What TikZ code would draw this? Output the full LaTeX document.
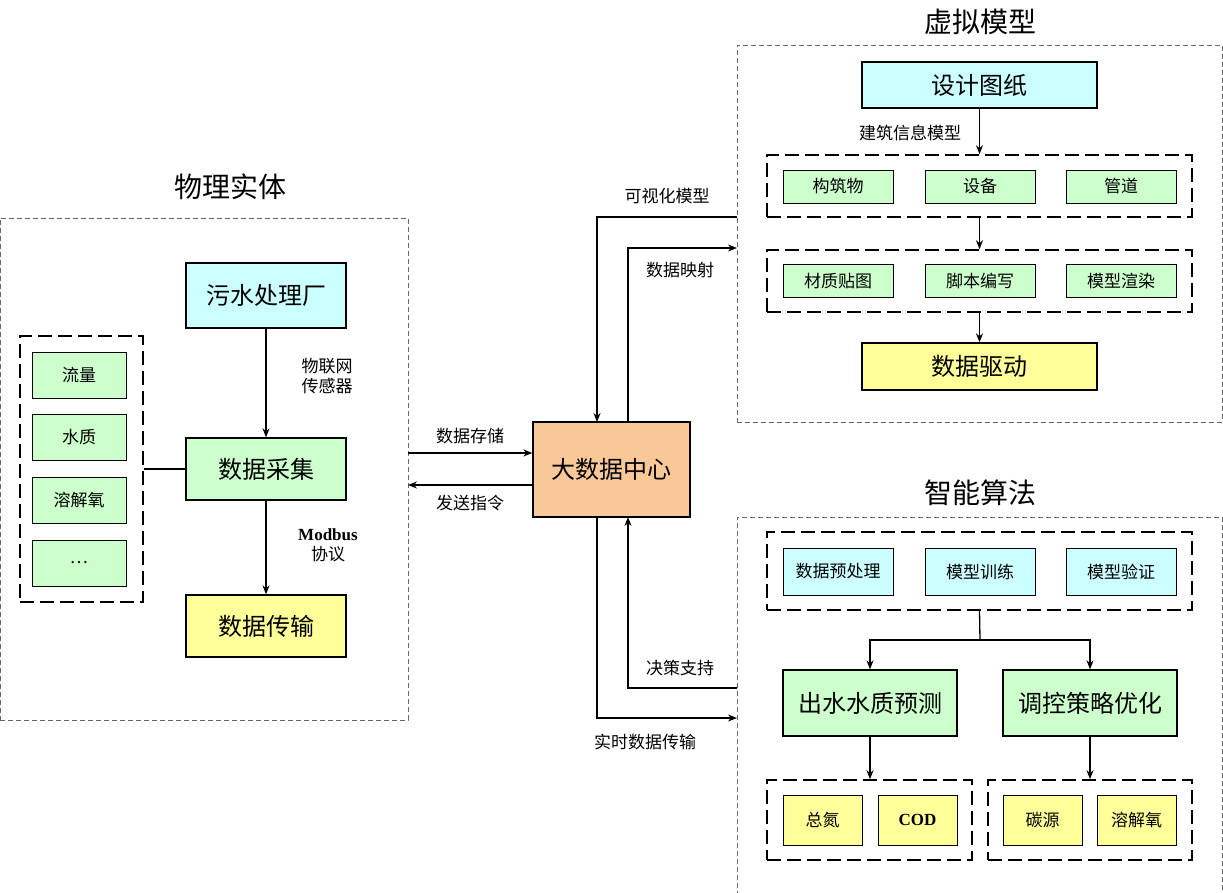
\documentclass[tikz,border=0pt]{standalone}
\usepackage{fontspec}
\setmainfont{Liberation Serif}
\newfontfamily\cjk{Noto Sans CJK SC}
\usetikzlibrary{arrows.meta}
\definecolor{cy}{HTML}{CCFFFF}
\definecolor{gr}{HTML}{CCFFCC}
\definecolor{ye}{HTML}{FFFF99}
\definecolor{og}{HTML}{F9C898}
\begin{document}
\begin{tikzpicture}[x=1pt,y=-1pt,
 box/.style={draw,line width=1.3pt,inner sep=0pt,font=\cjk\fontsize{24}{26}\selectfont},
 sbox/.style={draw,line width=0.8pt,inner sep=0pt,font=\cjk\fontsize{17}{19}\selectfont,minimum width=110pt,minimum height=33pt},
 frame/.style={draw,gray!80!black,dashed,line width=0.8pt,inner sep=0pt,dash pattern=on 5pt off 3pt},
 grp/.style={draw,line width=1.6pt,inner sep=0pt,dash pattern=on 14pt off 6pt},
 lab/.style={font=\cjk\fontsize{17}{20}\selectfont,inner sep=1pt},
 ttl/.style={font=\cjk\fontsize{28}{30}\selectfont},
 arr/.style={line width=1.3pt,-{Stealth[length=9pt,width=7pt]}},
 ln/.style={line width=1.3pt}]
\useasboundingbox (0,0) rectangle (1223,893);
% frames
\node[frame,minimum width=408pt,minimum height=502pt] (F1) at (204,469) {};
\node[frame,minimum width=485pt,minimum height=377pt] (F2) at (979.5,233.5) {};
\node[frame,minimum width=485pt,minimum height=376pt] (F3) at (979.5,705) {};
\node[ttl] (T1) at (230,187) {物理实体};
\node[ttl] (T2) at (980,22) {虚拟模型};
\node[ttl] (T3) at (980,493) {智能算法};
% left
\node[box,fill=cy,minimum width=160pt,minimum height=65pt] (wsc) at (266,295.5) {污水处理厂};
\node[box,fill=gr,minimum width=160pt,minimum height=62pt] (sjcj) at (266,469) {数据采集};
\node[box,fill=ye,minimum width=160pt,minimum height=62pt] (sjcs) at (266,626) {数据传输};
\draw[arr] (wsc) -- (sjcj);
\draw[arr] (sjcj) -- (sjcs);
\node[lab,align=center] (l1) at (327,376) {物联网\\传感器};
\node[lab,align=center] (l2) at (328,545) {{\rmfamily\bfseries Modbus}\\协议};
\node[grp,minimum width=123pt,minimum height=266pt] (G0) at (81.5,469) {};
\foreach \n/\t/\y in {a/流量/375,b/水质/437,c/溶解氧/500,d/…/563}
 \node[sbox,fill=gr,minimum width=94pt,minimum height=46pt] (s\n) at (79,\y) {\t};
\draw[ln] (G0.east) -- (sjcj.west);
% center
\node[box,fill=og,minimum width=157pt,minimum height=95pt] (dsj) at (611.5,469.5) {大数据中心};
\coordinate (cL1) at (408,453);
\coordinate (cL2) at (408,485);
\draw[arr] (cL1) -- (cL1-|dsj.west);
\draw[arr] (cL2-|dsj.west) -- (cL2);
\node[lab] (l3) at (470,436) {数据存储};
\node[lab] (l4) at (470,503) {发送指令};
% top right
\node[box,fill=cy,minimum width=235pt,minimum height=46pt] (sjtz) at (979.5,85) {设计图纸};
\node[grp,minimum width=425pt,minimum height=62pt] (G1) at (979.5,186) {};
\node[sbox,fill=gr] (g1a) at (838,186.5) {构筑物};
\node[sbox,fill=gr] (g1b) at (980,186.5) {设备};
\node[sbox,fill=gr] (g1c) at (1121,186.5) {管道};
\node[grp,minimum width=425pt,minimum height=62pt] (G2) at (979.5,281) {};
\node[sbox,fill=gr] (g2a) at (838,281) {材质贴图};
\node[sbox,fill=gr] (g2b) at (980,281) {脚本编写};
\node[sbox,fill=gr] (g2c) at (1121,281) {模型渲染};
\node[box,fill=ye,minimum width=235pt,minimum height=47pt] (sjqd) at (979.5,366.5) {数据驱动};
\draw[arr] (sjtz) -- (G1);
\draw[arr] (G1) -- (G2);
\draw[arr] (G2) -- (sjqd);
\node[lab] (l5) at (910,133) {建筑信息模型};
\coordinate (v1) at (737,217);
\coordinate (v2) at (737,248);
\draw[arr] (v1) -- (597,217) -- (597,422);
\draw[arr] (628,422) -- (628,248) -- (v2);
\node[lab] (l6) at (667,196) {可视化模型};
\node[lab] (l7) at (680,270) {数据映射};
% bottom right
\node[grp,minimum width=425pt,minimum height=78pt] (G3) at (979.5,571) {};
\node[sbox,fill=cy,minimum height=47pt] (g3a) at (838,571.5) {数据预处理};
\node[sbox,fill=cy,minimum height=47pt] (g3b) at (980,571.5) {模型训练};
\node[sbox,fill=cy,minimum height=47pt] (g3c) at (1121,571.5) {模型验证};
\node[box,fill=gr,minimum width=174pt,minimum height=66pt] (cs) at (870,703) {出水水质预测};
\node[box,fill=gr,minimum width=174pt,minimum height=66pt] (tk) at (1090,703) {调控策略优化};
\coordinate (j) at (980,640);
\draw[ln] (G3.south) -- (j);
\draw[arr] (j) -| (cs.north);
\draw[arr] (j) -| (tk.north);
\node[grp,minimum width=205pt,minimum height=80pt] (G4) at (869.5,820) {};
\node[grp,minimum width=204pt,minimum height=80pt] (G5) at (1090,820) {};
\node[sbox,fill=ye,minimum width=79pt,minimum height=50pt] (g4a) at (822.5,820) {总氮};
\node[sbox,fill=ye,minimum width=79pt,minimum height=50pt,font=\bfseries\fontsize{17}{19}\selectfont] (g4b) at (917.5,820) {COD};
\node[sbox,fill=ye,minimum width=79pt,minimum height=50pt] (g5a) at (1042.5,820) {碳源};
\node[sbox,fill=ye,minimum width=79pt,minimum height=50pt] (g5b) at (1136.5,820) {溶解氧};
\draw[arr] (cs) -- (cs|-G4.north);
\draw[arr] (tk) -- (tk|-G5.north);
\coordinate (v3) at (737,688);
\coordinate (v4) at (737,718);
\draw[arr] (v3) -- (628,688) -- (628,517);
\draw[arr] (597,517) -- (597,718) -- (v4);
\node[lab] (l8) at (680,668) {决策支持};
\node[lab] (l9) at (645,742) {实时数据传输};
\end{tikzpicture}
\end{document}
